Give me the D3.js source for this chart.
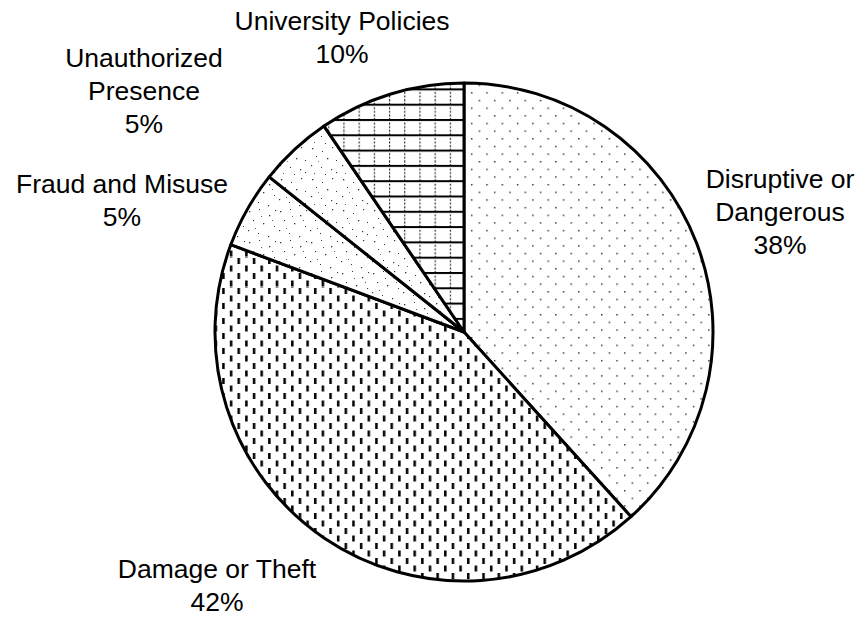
<!DOCTYPE html>
<html>
<head>
<meta charset="utf-8">
<script src="https://cdn.jsdelivr.net/npm/d3@7"></script>
<style>
  html, body { margin: 0; padding: 0; background: #fff; }
  svg { display: block; }
  text { font-family: "Liberation Sans", Arial, sans-serif; fill: #000; }
</style>
</head>
<body>
<svg id="chart" width="863" height="622"></svg>
<script>
// ---- data ----
const categories = ["Disruptive or Dangerous", "Damage or Theft", "Fraud and Misuse", "Unauthorized Presence", "University Policies"];
const values = [38.3, 42.4, 5.0, 4.8, 9.5];
const labelLines = [["Disruptive or", "Dangerous"], ["Damage or Theft"], ["Fraud and Misuse"], ["Unauthorized", "Presence"], ["University Policies"]];
const patterns = ["dots", "dashes", "stipple1", "stipple2", "grid"];

// ---- layout ----
const W = 863, H = 622;
const cx = 464, cy = 332, R = 249;
const fontSize = 26.5, lineH = 33;
// label block anchor (center x, first baseline y) relative to pie centre
const labelOffsets = [[316, -144], [-247, 246], [-342, -139], [-320, -265], [-122, -302]];

const svg = d3.select("#chart");
const defs = svg.append("defs");

// Disruptive: sparse regular dots
const pDots = defs.append("pattern").attr("id", "dots").attr("patternUnits", "userSpaceOnUse")
  .attr("width", 15.3).attr("height", 15.3).attr("x", cx + 1).attr("y", 4);
pDots.append("rect").attr("width", 15.3).attr("height", 15.3).attr("fill", "#fff");
[[1, 1], [8.65, 8.65]].forEach(([x, y]) => pDots.append("rect").attr("x", x).attr("y", y).attr("width", 1.4).attr("height", 1.4).attr("fill", "#222"));

// Damage: vertical short dashes
const pDash = defs.append("pattern").attr("id", "dashes").attr("patternUnits", "userSpaceOnUse")
  .attr("width", 15.3).attr("height", 15).attr("x", 2).attr("y", 0);
pDash.append("rect").attr("width", 15.3).attr("height", 15).attr("fill", "#fff");
[[1, 1], [8.65, 8.5]].forEach(([x, y]) => pDash.append("rect").attr("x", x).attr("y", y).attr("width", 2.5).attr("height", 6).attr("fill", "#000"));

// stipples for the two small slices
function stipple(id, pts, size) {
  const p = defs.append("pattern").attr("id", id).attr("patternUnits", "userSpaceOnUse")
    .attr("width", size).attr("height", size);
  p.append("rect").attr("width", size).attr("height", size).attr("fill", "#fff");
  pts.forEach(([x, y, s]) => p.append("rect").attr("x", x).attr("y", y).attr("width", s).attr("height", s).attr("fill", "#333"));
}
stipple("stipple1", [[2, 3, 1.3], [12, 1, 1], [22, 7, 1.3], [6, 12, 1.1], [16, 15, 1.3], [27, 18, 1], [1, 22, 1.2], [11, 25, 1], [21, 28, 1.2], [25, 12, 0.9], [8, 20, 0.9], [28, 2, 1.1], [14, 8, 0.9]], 31);
stipple("stipple2", [[3, 2, 1.3], [13, 5, 1], [23, 1, 1.2], [7, 10, 1], [18, 12, 1.3], [27, 14, 1], [2, 19, 1.2], [12, 21, 1], [22, 23, 1.2], [16, 28, 1], [5, 27, 0.9], [27, 26, 1.1], [9, 15, 0.8]], 31);

// University: horizontal lines + dashed vertical lines
const pGrid = defs.append("pattern").attr("id", "grid").attr("patternUnits", "userSpaceOnUse")
  .attr("width", 15.2).attr("height", 15.3).attr("x", 1).attr("y", 93);
pGrid.append("rect").attr("width", 15.2).attr("height", 15.3).attr("fill", "#fff");
pGrid.append("rect").attr("x", 0).attr("y", 0).attr("width", 15.2).attr("height", 2).attr("fill", "#000");
pGrid.append("line").attr("x1", 0.6).attr("x2", 0.6).attr("y1", 0).attr("y2", 15.3)
  .attr("stroke", "#000").attr("stroke-width", 1).attr("stroke-dasharray", "2,1.6");

// ---- pie ----
const pie = d3.pie().sort(null).value(d => d.value).startAngle(0).endAngle(2 * Math.PI);
const data = categories.map((c, i) => ({ name: c, value: values[i], pattern: patterns[i], lines: labelLines[i], off: labelOffsets[i] }));
const arcs = pie(data);
const arc = d3.arc().innerRadius(0).outerRadius(R);
const total = d3.sum(values);

const g = svg.append("g").attr("transform", `translate(${cx},${cy})`);
g.selectAll("path.slice").data(arcs).join("path")
  .attr("class", "slice")
  .attr("d", arc)
  .attr("fill", d => `url(#${d.data.pattern})`)
  .attr("stroke", "#000")
  .attr("stroke-width", 3)
  .attr("stroke-linejoin", "round");

// ---- labels ----
const lab = g.selectAll("text.lab").data(arcs).join("text")
  .attr("class", "lab")
  .attr("text-anchor", "middle")
  .attr("font-size", fontSize)
  .attr("x", d => d.data.off[0])
  .attr("y", d => d.data.off[1]);
lab.each(function (d) {
  const t = d3.select(this);
  const lines = d.data.lines.concat([Math.round(d.data.value / total * 100) + "%"]);
  lines.forEach((s, i) => t.append("tspan").attr("x", d.data.off[0]).attr("y", d.data.off[1] + i * lineH).text(s));
});
</script>
</body>
</html>
